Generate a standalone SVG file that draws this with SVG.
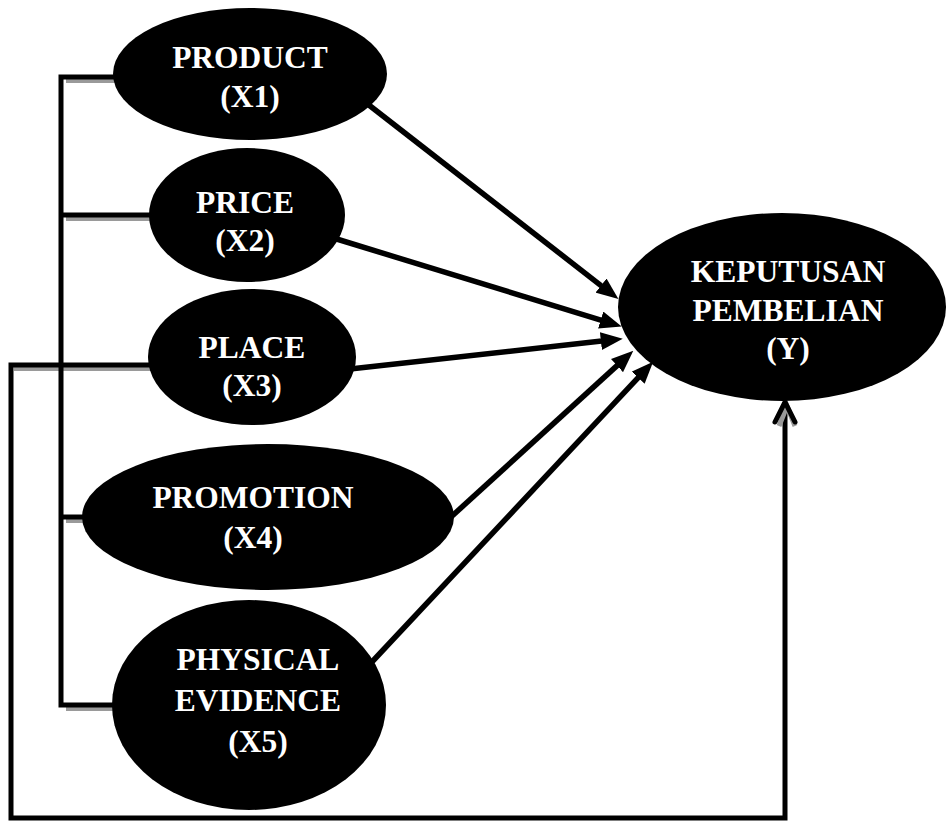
<svg xmlns="http://www.w3.org/2000/svg" width="950" height="822" viewBox="0 0 950 822">
<style>
.node ellipse{fill:#000}
.node text{font-family:"Liberation Serif","Times New Roman",serif;font-weight:bold;font-size:31.5px;fill:#fff;text-anchor:middle}
.ln{fill:none;stroke:#000;stroke-width:5}
.sh{fill:none;stroke:#9a9a9a;stroke-width:4}
.arr{fill:none;stroke:#000;stroke-width:5.5;marker-end:url(#ah)}
</style>
<defs>
<marker id="ah" markerUnits="userSpaceOnUse" markerWidth="22" markerHeight="18" refX="5" refY="8.5" orient="auto" viewBox="0 0 21 17">
<path d="M0,0 L21,8.5 L0,17 z" fill="#000"/>
</marker>
</defs>
<g id="connectors">
<line class="sh" x1="66" y1="81" x2="116" y2="81"/>
<line class="sh" x1="66" y1="219" x2="152" y2="219"/>
<line class="sh" x1="14" y1="369" x2="152" y2="369"/>
<line class="sh" x1="66" y1="521" x2="86" y2="521"/>
<line class="sh" x1="66" y1="709" x2="115" y2="709"/>
<path class="ln" d="M120,77 H61 V705 H118"/>
<line class="ln" x1="61" y1="215" x2="152" y2="215"/>
<line class="ln" x1="61" y1="517" x2="88" y2="517"/>
<path class="ln" d="M152,365 H11 V818 H785 V402"/>
<path d="M777,424 L785,404 L793,424" fill="none" stroke="#9a9a9a" stroke-width="5" transform="translate(2,2)"/>
<path d="M775,422 L785,402 L795,422" fill="none" stroke="#000" stroke-width="5" stroke-linecap="round" stroke-linejoin="round"/>
<line class="arr" x1="365" y1="102" x2="605.2" y2="288.8"/>
<line class="arr" x1="335" y1="238.5" x2="605.7" y2="321.6"/>
<line class="arr" x1="350" y1="369" x2="606.1" y2="340.6"/>
<line class="arr" x1="440" y1="527" x2="620.9" y2="362.1"/>
<line class="arr" x1="370" y1="664" x2="641.7" y2="373.9"/>
</g>
<g id="x1" class="node">
<ellipse cx="250" cy="74" rx="137" ry="66"/>
<text x="250" y="68">PRODUCT</text>
<text x="250" y="107">(X1)</text>
</g>
<g id="x2" class="node">
<ellipse cx="247" cy="215" rx="98" ry="67"/>
<text x="245" y="213">PRICE</text>
<text x="245" y="251">(X2)</text>
</g>
<g id="x3" class="node">
<ellipse cx="252" cy="357" rx="104" ry="68"/>
<text x="252" y="358">PLACE</text>
<text x="252" y="396">(X3)</text>
</g>
<g id="x4" class="node">
<ellipse cx="268" cy="517" rx="186" ry="73"/>
<text x="253" y="508">PROMOTION</text>
<text x="253" y="548">(X4)</text>
</g>
<g id="x5" class="node">
<ellipse cx="249" cy="705" rx="137" ry="105"/>
<text x="258" y="670">PHYSICAL</text>
<text x="258" y="711">EVIDENCE</text>
<text x="258" y="752">(X5)</text>
</g>
<g id="y" class="node">
<ellipse cx="782" cy="307" rx="164" ry="94"/>
<text x="788" y="282">KEPUTUSAN</text>
<text x="788" y="321">PEMBELIAN</text>
<text x="788" y="359">(Y)</text>
</g>
</svg>
